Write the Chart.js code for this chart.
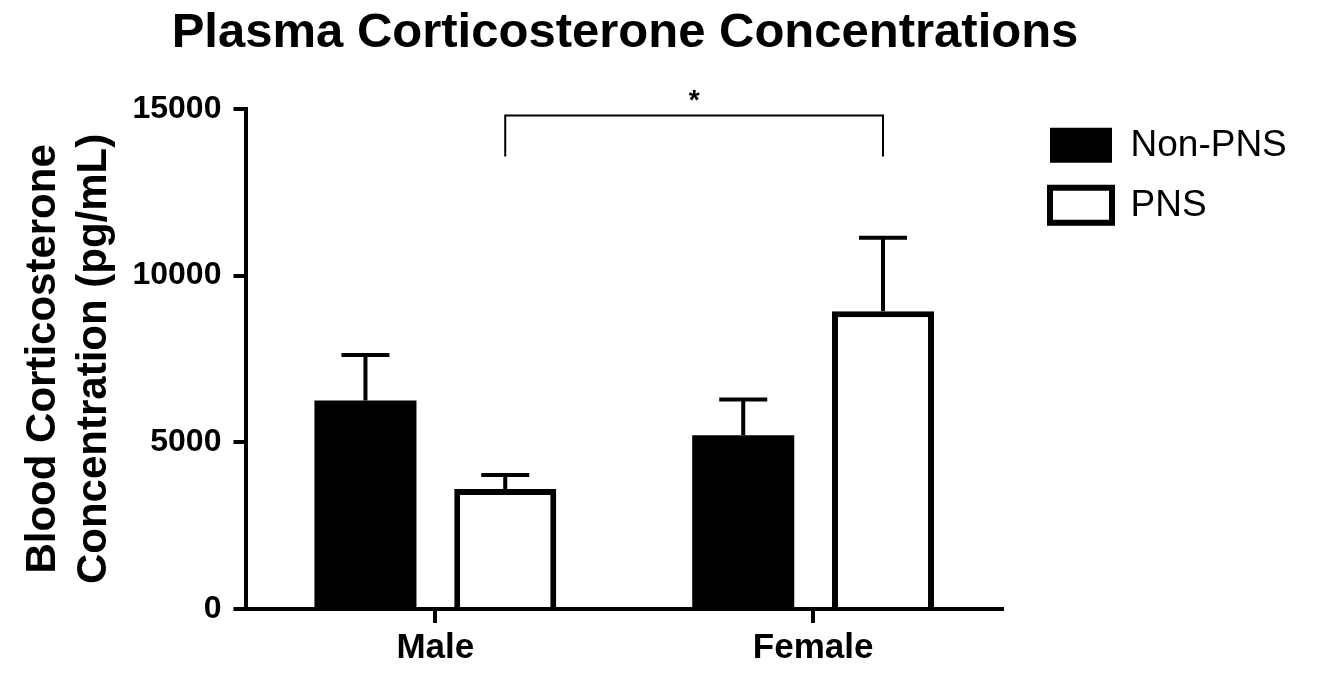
<!DOCTYPE html>
<html>
<head>
<meta charset="utf-8">
<script src="https://cdn.jsdelivr.net/npm/chart.js@4.4.1/dist/chart.umd.min.js"></script>
<style>
  html, body { margin: 0; padding: 0; background: #fff; }
</style>
</head>
<body>
<canvas id="myChart" width="1326" height="673"></canvas>
<script>
// data
const groups = ['Male', 'Female'];
const nonPns = [6250, 5210];
const nonPnsErr = [1370, 1070];
const pns = [3600, 8930];
const pnsErr = [420, 2200];
const yTicks = [0, 5000, 10000, 15000];

// significance bracket between the two PNS bars
const bracketTop = 14800;
const bracketFoot = 13570;
const bracketLabel = '*';

Chart.defaults.font.family = "'Liberation Sans', Arial, sans-serif";
Chart.defaults.color = '#000';

const errorBars = {
  id: 'errorBars',
  afterDatasetsDraw(chart) {
    const ctx = chart.ctx;
    const y = chart.scales.y;
    chart.data.datasets.forEach((ds, i) => {
      chart.getDatasetMeta(i).data.forEach((bar, j) => {
        const top = y.getPixelForValue(ds.data[j] + ds.errors[j]);
        ctx.save();
        ctx.strokeStyle = '#000';
        ctx.lineWidth = 4;
        ctx.beginPath();
        ctx.moveTo(bar.x, bar.y);
        ctx.lineTo(bar.x, top);
        ctx.moveTo(bar.x - 24, top);
        ctx.lineTo(bar.x + 24, top);
        ctx.stroke();
        ctx.restore();
      });
    });
  }
};

const bracket = {
  id: 'bracket',
  afterDraw(chart) {
    const ctx = chart.ctx;
    const y = chart.scales.y;
    const bars = chart.getDatasetMeta(1).data;
    const x1 = bars[0].x, x2 = bars[1].x;
    const yt = y.getPixelForValue(bracketTop);
    const yf = y.getPixelForValue(bracketFoot);
    ctx.save();
    ctx.strokeStyle = '#000';
    ctx.lineWidth = 2;
    ctx.beginPath();
    ctx.moveTo(x1, yf);
    ctx.lineTo(x1, yt);
    ctx.lineTo(x2, yt);
    ctx.lineTo(x2, yf);
    ctx.stroke();
    ctx.fillStyle = '#000';
    ctx.font = "bold 28px 'Liberation Sans', Arial, sans-serif";
    ctx.textAlign = 'center';
    ctx.textBaseline = 'alphabetic';
    ctx.fillText(bracketLabel, (x1 + x2) / 2, yt - 6);
    ctx.restore();
  }
};

// push the legend a little right / up from where the layout puts it,
// and widen its box so the labels aren't clipped
const legendShift = {
  id: 'legendShift',
  afterLayout(chart) {
    const lg = chart.legend;
    lg.left += 25;
    lg.right += 25 + 60;
    lg.width += 60;
    lg.top -= 5; lg.bottom -= 5;
  }
};

const config = {
  type: 'bar',
  data: {
    labels: groups,
    datasets: [
      {
        label: 'Non-PNS',
        data: nonPns,
        errors: nonPnsErr,
        backgroundColor: '#000',
        borderColor: '#000',
        borderWidth: 0,
        categoryPercentage: 0.74,
        barPercentage: 0.73
      },
      {
        label: 'PNS',
        data: pns,
        errors: pnsErr,
        backgroundColor: '#fff',
        borderColor: '#000',
        borderWidth: 6,
        categoryPercentage: 0.74,
        barPercentage: 0.73
      }
    ]
  },
  options: {
    responsive: false,
    animation: false,
    layout: { padding: { left: 18, right: 94, top: 0, bottom: 0 } },
    plugins: {
      title: {
        display: true,
        text: 'Plasma Corticosterone Concentrations',
        font: { size: 49, weight: 'bold' },
        color: '#000',
        padding: { top: 4, bottom: 46 }
      },
      legend: {
        position: 'right',
        align: 'start',
        fullSize: false,
        maxWidth: 230,
        labels: {
          boxWidth: 62,
          boxHeight: 35,
          padding: 23,
          font: { size: 37 },
          color: '#000'
        }
      },
      tooltip: { enabled: false }
    },
    scales: {
      x: {
        grid: { display: true, drawOnChartArea: false, drawTicks: true, tickLength: 14, lineWidth: 4, color: '#000', offset: false },
        border: { display: true, width: 4, color: '#000' },
        ticks: { font: { size: 35, weight: 'bold' }, color: '#000', padding: 4 }
      },
      y: {
        min: 0,
        max: 15000,
        afterBuildTicks: scale => { scale.ticks = yTicks.map(v => ({ value: v })); },
        grid: { display: true, drawOnChartArea: false, drawTicks: true, tickLength: 13, lineWidth: 4, color: '#000' },
        border: { display: true, width: 4, color: '#000' },
        ticks: { font: { size: 32, weight: 'bold' }, color: '#000', padding: 12, callback: v => String(v) },
        title: {
          display: true,
          text: ['Blood Corticosterone', 'Concentration (pg/mL)'],
          font: { size: 42, weight: 'bold', lineHeight: 1.22 },
          color: '#000',
          padding: { top: 0, bottom: 0 }
        }
      }
    }
  },
  plugins: [errorBars, bracket, legendShift]
};

var myChart = new Chart(document.getElementById('myChart'), config);
</script>
</body>
</html>
